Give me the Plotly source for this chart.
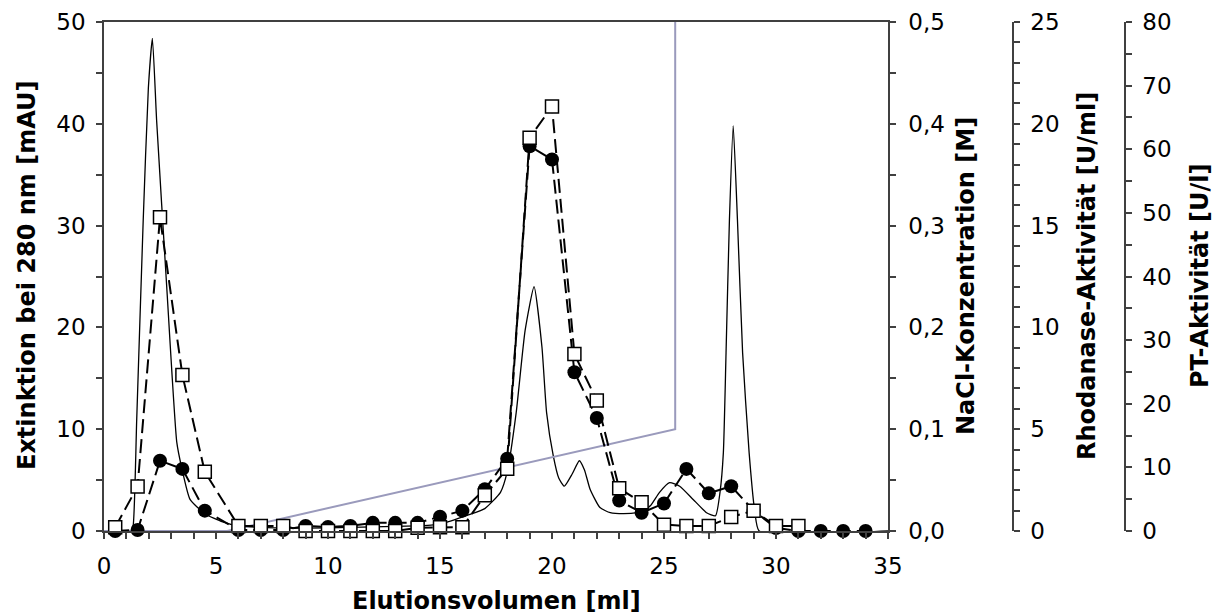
import plotly.graph_objects as go

# ---------------- data ----------------
# UV absorbance trace (Extinktion 280 nm, mAU)
uv_ml = [0, 1.2, 1.3, 1.46, 1.75, 1.98, 2.16, 2.35, 2.8, 3.25, 3.47, 3.84, 4.5, 5.3, 6.0,
         8, 10, 12, 14, 14.7, 15.5, 16.3, 17.0, 17.7, 18.0, 18.4, 18.8, 19.2, 19.55, 19.76,
         20.06, 20.3, 20.55, 20.9, 21.22, 21.45, 21.7, 22.14, 22.6, 23.2, 23.8, 24.1, 24.4,
         24.8, 25.25, 25.7, 26.3, 26.9, 27.3, 27.5, 27.65, 27.77, 27.92, 28.09, 28.28, 28.51,
         28.8, 29.06, 29.25, 35]
uv_mau = [0, 0, 0.5, 10.9, 30.5, 43.5, 48.4, 40.3, 24.0, 8.7, 6.2, 3.1, 1.7, 0.9, 0.5,
          0.3, 0.3, 0.4, 0.5, 0.6, 1.0, 1.6, 2.2, 3.8, 5.8, 11.6, 19.7, 24.0, 18.1, 11.6,
          7.35, 5.2, 4.4, 5.6, 6.9, 6.0, 4.1, 2.3, 1.8, 1.7, 1.8, 2.0, 2.5,
          3.8, 4.75, 4.4, 3.1, 1.8, 1.5, 3.8, 7.7, 17.5, 30.5, 39.8, 30.5, 17.5,
          7.7, 1.8, 0, 0]

# NaCl gradient (M)
nacl_ml = [0, 5.5, 25.5, 25.5]
nacl_m = [0.0, 0.0, 0.1, 0.5]

# Rhodanase activity (U/ml) - filled circles
rho_ml = [0.5, 1.5, 2.5, 3.5, 4.5, 6, 7, 8, 9, 10, 11, 12, 13, 14, 15, 16, 17, 18, 19, 20,
          21, 22, 23, 24, 25, 26, 27, 28, 29, 30, 31, 32, 33, 34]
rho_act = [0, 0.05, 3.45, 3.05, 1.0, 0.05, 0.05, 0.05, 0.25, 0.2, 0.25, 0.4, 0.4, 0.4, 0.7,
           1.0, 2.05, 3.55, 18.9, 18.25, 7.8, 5.55, 1.5, 0.9, 1.35, 3.05, 1.85, 2.2, 1.0,
           0.15, 0, 0, 0, 0]

# PT activity (U/l) - open squares
pt_ml = [0.5, 1.5, 2.5, 3.5, 4.5, 6, 7, 8, 9, 10, 11, 12, 13, 14, 15, 16, 17, 18, 19, 20,
         21, 22, 23, 24, 25, 26, 27, 28, 29, 30, 31]
pt_act = [0.6, 7.0, 49.3, 24.5, 9.3, 0.8, 0.8, 0.8, 0, 0, 0, 0, 0, 0.5, 0.6, 0.6, 5.6, 9.8,
          61.8, 66.7, 27.8, 20.5, 6.7, 4.5, 1.0, 0.8, 0.8, 2.2, 3.2, 0.8, 0.8]

# axis titles
x_title = "Elutionsvolumen [ml]"
y_titles = ["Extinktion bei 280 nm [mAU]", "NaCl-Konzentration [M]",
            "Rhodanase-Aktivität [U/ml]", "PT-Aktivität [U/l]"]

# ---------------- figure ----------------
FONT = "DejaVu Sans"
AX = "#404040"
TICKF = dict(family=FONT, size=23, color="black")
TITLEF = dict(family=FONT, size=24, color="black", weight="bold")

fig = go.Figure()

fig.add_trace(go.Scatter(x=uv_ml, y=uv_mau, mode="lines", yaxis="y",
                         line=dict(color="black", width=1.3, shape="spline", smoothing=0.5),
                         showlegend=False))
fig.add_trace(go.Scatter(x=nacl_ml, y=nacl_m, mode="lines", yaxis="y2",
                         line=dict(color="#9a9abc", width=2), showlegend=False))
fig.add_trace(go.Scatter(x=rho_ml, y=rho_act, mode="lines+markers", yaxis="y3",
                         line=dict(color="black", width=2, dash="14px,6px"),
                         marker=dict(symbol="circle", size=14, color="black"),
                         cliponaxis=False, showlegend=False))
fig.add_trace(go.Scatter(x=pt_ml, y=pt_act, mode="lines+markers", yaxis="y4",
                         line=dict(color="black", width=2, dash="14px,6px"),
                         marker=dict(symbol="square", size=13, color="white",
                                     line=dict(color="black", width=1.5)),
                         cliponaxis=False, showlegend=False))

W, H = 1215, 614
L, R, T, B = 104, 90, 22, 83
paper_w = W - L - R
paper_h = H - T - B
xend = (888 - L) / paper_w
rho_pos = (1013 - L) / paper_w

common = dict(showline=True, linecolor=AX, linewidth=1.5, ticks="outside", ticklen=6,
              tickcolor=AX, tickwidth=1.5, showgrid=False, zeroline=False,
              tickfont=TICKF, automargin=False)
minor = lambda d: dict(dtick=d, ticks="outside", ticklen=6, tickcolor=AX, tickwidth=1.5)

fig.update_layout(
    width=W, height=H,
    margin=dict(l=L, r=R, t=T, b=B),
    paper_bgcolor="white", plot_bgcolor="white",
    separators=",.",
    xaxis=dict(domain=[0, xend], range=[0, 35], dtick=5, tick0=0, minor=minor(1),
               mirror=True, ticklabelstandoff=8, **common),
    yaxis=dict(range=[0, 50], dtick=10, tick0=0, minor=minor(5),
               ticklabelstandoff=6, **common),
    yaxis2=dict(overlaying="y", side="right", anchor="x", range=[0, 0.5], dtick=0.1,
                tick0=0, tickformat=".1f", minor=minor(0.05), ticklabelstandoff=8, **common),
    yaxis3=dict(overlaying="y", side="right", anchor="free", position=rho_pos,
                range=[0, 25], dtick=5, tick0=0, minor=minor(1), ticklabelstandoff=6,
                **common),
    yaxis4=dict(overlaying="y", side="right", anchor="free", position=1.0,
                range=[0, 80], dtick=10, tick0=0, minor=minor(5), ticklabelstandoff=6,
                **common),
)

# axis titles as annotations at measured pixel positions
def px_x(px):
    return (px - L) / paper_w

def px_y(py):
    return (H - B - py) / paper_h

fig.add_annotation(text=x_title, x=px_x(496), y=px_y(601), xref="paper", yref="paper",
                   showarrow=False, font=TITLEF, xanchor="center", yanchor="middle")
for txt, cx in zip(y_titles, [27, 966, 1087, 1200]):
    fig.add_annotation(text=txt, x=px_x(cx), y=px_y(276), xref="paper", yref="paper",
                       showarrow=False, font=TITLEF, textangle=-90,
                       xanchor="center", yanchor="middle")

fig.write_html("out.html")
